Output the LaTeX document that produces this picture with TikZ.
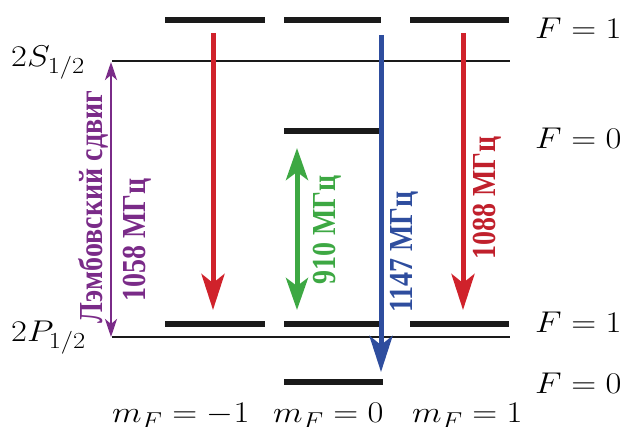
\RequirePackage{fix-cm}
\documentclass[tikz,border=0pt]{standalone}
\usepackage{fontspec}
\usepackage{graphicx}
\usetikzlibrary{arrows.meta}
\newfontfamily\rusfont{Liberation Serif}
\definecolor{cred}{HTML}{D0222B}
\definecolor{credt}{HTML}{C0202C}
\definecolor{cblue}{HTML}{2E4D9E}
\definecolor{cgreen}{HTML}{3DA843}
\definecolor{cpurp}{HTML}{7A2B88}
\definecolor{lvlc}{HTML}{1A1A1A}
\tikzset{
  lvl/.style={line width=6pt, lvlc},
  thinlvl/.style={line width=2.5pt, lvlc},
  bigarr/.style={line width=5pt, -{Stealth[length=36pt,width=23pt,inset=9pt]}},
  dblarr/.style={line width=5pt, {Stealth[length=32pt,width=22pt,inset=8pt]}-{Stealth[length=32pt,width=22pt,inset=8pt]}},
  smallarr/.style={line width=2.8pt, {Stealth[length=18pt,width=12pt,inset=5pt]}-{Stealth[length=18pt,width=12pt,inset=5pt]}},
  mathlbl/.style={font=\fontsize{30}{35}\selectfont, inner sep=0pt, anchor=base west},
  ruslbl/.style={font=\rusfont\bfseries\fontsize{28}{32}\selectfont, rotate=90, inner sep=0pt},
}
\newcommand{\hs}[1]{\scalebox{1.15}[1]{#1}}
\newcommand{\vs}[1]{\scalebox{1}[1.2]{#1}}
\newcommand{\subsz}[1]{\mbox{\fontsize{23}{27}\selectfont$#1$}}
\begin{document}
\begin{tikzpicture}[x=1pt,y=-1pt]
\useasboundingbox (0,0) rectangle (624,427);
% thin fine-structure lines
\draw[thinlvl] (112,61) -- (510,61);
\draw[thinlvl] (112,337) -- (510,337);
% hyperfine sublevels
\draw[lvl] (165,20) -- (265,20);
\draw[lvl] (284,20) -- (381,20);
\draw[lvl] (410,20) -- (509,20);
\draw[lvl] (284,131) -- (379,131);
\draw[lvl] (165,324) -- (265,324);
\draw[lvl] (284,324) -- (379,324);
\draw[lvl] (410,324) -- (509,324);
\draw[lvl] (284,382) -- (383,382);
% arrow endpoints
\coordinate (ra) at (213,33);  \coordinate (rb) at (213,310);
\coordinate (ba) at (381,35);  \coordinate (bb) at (381,372);
\coordinate (qa) at (463,33);  \coordinate (qb) at (463,310);
\coordinate (ga) at (297,148); \coordinate (gb) at (297,310);
\coordinate (pa) at (111,62);  \coordinate (pb) at (111,337);
\draw[bigarr, cred] (ra) -- (rb);
\draw[bigarr, cred] (qa) -- (qb);
\draw[dblarr, cgreen] (ga) -- (gb);
\draw[smallarr, cpurp] (pa) -- (pb);
\draw[bigarr, cblue] (ba) -- (bb);
% rotated labels
\node[ruslbl, text=cpurp] (lamb) at (93,207) {\vs{Лэмбовский сдвиг}};
\node[ruslbl, text=cpurp] (f1058) at (137,240) {\vs{1058 МГц}};
\node[ruslbl, text=cgreen] (f910) at (327,230) {\vs{910 МГц}};
\node[ruslbl, text=cblue] (f1147) at (404,252) {\vs{1147 МГц}};
\node[ruslbl, text=credt] (f1088) at (487,198) {\vs{1088 МГц}};
% math labels
\node[mathlbl] (s12) at (11,67) {\hs{$2S_{\subsz{1/2}}$}};
\node[mathlbl] (p12) at (11,342) {\hs{$2P_{\subsz{1/2}}$}};
\node[mathlbl] (fa) at (535,39) {\hs{$F=1$}};
\node[mathlbl] (fb) at (535,149) {\hs{$F=0$}};
\node[mathlbl] (fc) at (535,333) {\hs{$F=1$}};
\node[mathlbl] (fd) at (535,394) {\hs{$F=0$}};
\node[mathlbl] (m1) at (112,423) {\hs{$m_{\subsz{F}}=-1$}};
\node[mathlbl] (m2) at (273,423) {\hs{$m_{\subsz{F}}=0$}};
\node[mathlbl] (m3) at (412,423) {\hs{$m_{\subsz{F}}=1$}};
\end{tikzpicture}
\end{document}
